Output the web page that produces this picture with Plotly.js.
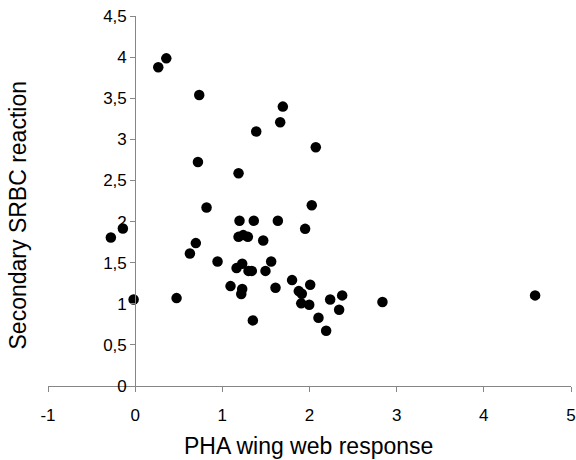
<!DOCTYPE html>
<html>
<head>
<meta charset="utf-8">
<script src="https://cdn.plot.ly/plotly-3.0.1.min.js"></script>
<style>html,body{margin:0;padding:0;background:#fff;}</style>
</head>
<body>
<div id="chart" style="width:576px;height:460px;"></div>
<script>
const phaResponse = [0.265, 0.357, 0.735, 1.389, 0.72, 1.186, 0.819, -0.279, -0.141, 0.696,
  0.628, 0.945, 1.197, 1.361, 1.186, 1.24, 1.293, 1.163, 1.228, 1.3,
  1.338, 1.094, 1.228, 1.217, 1.35, -0.018, 0.475, 1.694, 1.664, 2.072,
  2.026, 1.637, 1.95, 1.469, 1.56, 1.495, 1.8, 2.008, 1.61, 1.877,
  1.912, 1.905, 1.997, 2.237, 2.375, 2.34, 2.103, 2.191, 2.837, 4.588];
const srbcReaction = [3.876, 3.985, 3.54, 3.095, 2.725, 2.588, 2.171, 1.807, 1.916, 1.738,
  1.612, 1.515, 2.009, 2.009, 1.814, 1.835, 1.814, 1.434, 1.486, 1.40,
  1.40, 1.215, 1.179, 1.118, 0.798, 1.053, 1.069, 3.398, 3.208, 2.904,
  2.199, 2.009, 1.911, 1.77, 1.515, 1.40, 1.288, 1.231, 1.195, 1.154,
  1.122, 1.005, 0.988, 1.053, 1.102, 0.927, 0.83, 0.672, 1.021, 1.102];
const xTickValues = [-1, 0, 1, 2, 3, 4, 5];
const xTickLabels = ["-1", "0", "1", "2", "3", "4", "5"];
const yTickValues = [0, 0.5, 1, 1.5, 2, 2.5, 3, 3.5, 4, 4.5];
const yTickLabels = ["0", "0,5", "1", "1,5", "2", "2,5", "3", "3,5", "4", "4,5"];
const xTitle = "PHA wing web response";
const yTitle = "Secondary SRBC reaction";

const FONT = "Arial, 'Liberation Sans', sans-serif";
const AXIS_GRAY = "#868686";

const trace = {
  x: phaResponse,
  y: srbcReaction,
  type: "scatter",
  mode: "markers",
  marker: {color: "#000000", size: 10.5},
  hoverinfo: "x+y"
};

const layout = {
  width: 576,
  height: 460,
  margin: {l: 48, r: 5, t: 16, b: 74},
  paper_bgcolor: "#ffffff",
  plot_bgcolor: "#ffffff",
  showlegend: false,
  font: {family: FONT, color: "#000000", size: 17},
  xaxis: {
    range: [-1, 5],
    tickvals: xTickValues,
    ticktext: xTickLabels,
    showgrid: false,
    zeroline: false,
    showline: true,
    linecolor: AXIS_GRAY,
    linewidth: 1,
    ticks: "outside",
    ticklen: 5,
    tickcolor: AXIS_GRAY,
    tickfont: {family: FONT, size: 17, color: "#000000"},
    ticklabelstandoff: 9
  },
  yaxis: {
    range: [0, 4.5],
    anchor: "free",
    position: 1 / 6,
    tickvals: yTickValues,
    ticktext: yTickLabels,
    showgrid: false,
    zeroline: false,
    showline: true,
    linecolor: AXIS_GRAY,
    linewidth: 1,
    ticks: "outside",
    ticklen: 5,
    tickcolor: AXIS_GRAY,
    tickfont: {family: FONT, size: 17, color: "#000000"}
  },
  annotations: [
    {
      text: yTitle,
      xref: "paper", yref: "paper",
      x: -0.058, y: 0.46,
      xanchor: "center", yanchor: "middle",
      textangle: -90,
      showarrow: false,
      font: {family: FONT, size: 23, color: "#000000"}
    },
    {
      text: xTitle,
      xref: "paper", yref: "paper",
      x: 0.499, y: -0.163,
      xanchor: "center", yanchor: "middle",
      showarrow: false,
      font: {family: FONT, size: 23, color: "#000000"}
    }
  ]
};

Plotly.newPlot("chart", [trace], layout, {displayModeBar: false, staticPlot: true});
</script>
</body>
</html>
